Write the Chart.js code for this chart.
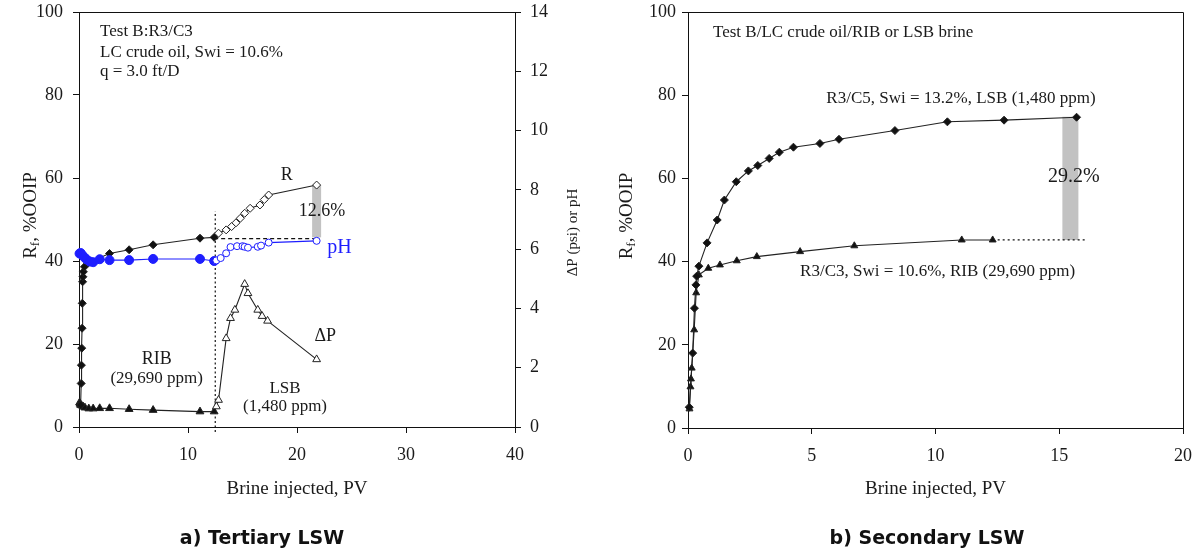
<!DOCTYPE html>
<html><head><meta charset="utf-8">
<script src="https://cdn.jsdelivr.net/npm/chart.js@4.4.1/dist/chart.umd.min.js"></script>
<style>
html,body{margin:0;padding:0;background:#fff;}
#wrap{position:relative;width:1194px;height:550px;overflow:hidden;background:#fff;}
#c1{position:absolute;left:0;top:0;width:600px;height:550px;}
#c2{position:absolute;left:600px;top:0;width:594px;height:550px;}
.panel{position:absolute;top:522px;font-family:"DejaVu Sans",sans-serif;font-weight:700;font-size:19px;color:#111;white-space:nowrap;transform:translateX(-50%);line-height:30px;}
</style></head><body>
<div id="wrap">
<canvas id="c1" width="600" height="550"></canvas>
<canvas id="c2" width="594" height="550"></canvas>
<div class="panel" style="left:262px">a) Tertiary LSW</div>
<div class="panel" style="left:927px">b) Secondary LSW</div>
</div>
<script>
// ---------- Panel a) Tertiary LSW : data ----------
// Recovery factor R (%OOIP) during RIB (filled) and LSB (open) injection
const R_rib_x = [0.15, 0.2, 0.22, 0.25, 0.28, 0.3, 0.33, 0.36, 0.4, 0.5, 0.8, 2.8, 4.6, 6.8, 11.1, 12.4];
const R_rib_y = [5.3, 10.5, 14.9, 19.0, 23.8, 29.8, 35.0, 36.2, 37.4, 38.6, 39.5, 41.8, 42.7, 43.9, 45.5, 45.7];
const R_lsb_x = [12.8, 13.5, 14.0, 14.4, 14.8, 15.2, 15.7, 16.6, 17.0, 17.4, 21.8];
const R_lsb_y = [46.7, 47.5, 48.3, 49.2, 50.3, 51.5, 52.7, 53.5, 54.8, 55.9, 58.3];
// pH (right axis)
const pH_rib_x = [0.05, 0.15, 0.3, 0.5, 0.7, 1.0, 1.3, 1.9, 2.8, 4.6, 6.8, 11.1, 12.4];
const pH_rib_y = [5.85, 5.87, 5.8, 5.72, 5.65, 5.58, 5.56, 5.66, 5.63, 5.63, 5.67, 5.67, 5.6];
const pH_lsb_x = [12.6, 13.0, 13.5, 13.9, 14.5, 15.0, 15.2, 15.5, 16.4, 16.7, 17.4, 21.8];
const pH_lsb_y = [5.62, 5.7, 5.86, 6.07, 6.1, 6.1, 6.08, 6.05, 6.08, 6.12, 6.22, 6.28];
// Pressure drop dP (psi, right axis)
const dP_rib_x = [0.05, 0.1, 0.15, 0.25, 0.4, 0.55, 0.9, 1.3, 1.9, 2.8, 4.6, 6.8, 11.1, 12.4];
const dP_rib_y = [0.82, 0.78, 0.74, 0.72, 0.68, 0.65, 0.62, 0.62, 0.63, 0.63, 0.6, 0.57, 0.52, 0.52];
const dP_lsb_x = [12.6, 12.8, 13.5, 13.9, 14.3, 15.2, 15.5, 16.4, 16.8, 17.3, 21.8];
const dP_lsb_y = [0.69, 0.91, 2.99, 3.67, 3.95, 4.82, 4.51, 3.95, 3.74, 3.58, 2.28];
const switchPV = 12.5;      // brine switch RIB -> LSB
const switchLineTop = 52;   // top of the dotted switch marker (%OOIP)
const xTicksA = [0, 10, 20, 30, 40];
const yTicksA = [0, 20, 40, 60, 80, 100];
const y2TicksA = [0, 2, 4, 6, 8, 10, 12, 14];

// ---------- Panel b) Secondary LSW : data ----------
const C5_x = [0.05, 0.19, 0.26, 0.32, 0.35, 0.44, 0.77, 1.18, 1.47, 1.95, 2.44, 2.82, 3.28, 3.69, 4.26, 5.33, 6.1, 8.36, 10.48, 12.77, 15.7];
const C5_y = [5.0, 18.0, 28.8, 34.4, 36.5, 38.9, 44.5, 50.0, 54.8, 59.2, 61.8, 63.1, 64.8, 66.3, 67.5, 68.4, 69.4, 71.5, 73.6, 74.0, 74.7];
const C3_x = [0.06, 0.1, 0.12, 0.15, 0.25, 0.33, 0.44, 0.82, 1.29, 1.97, 2.78, 4.53, 6.72, 11.06, 12.31];
const C3_y = [4.6, 9.9, 11.8, 14.4, 23.6, 32.5, 36.8, 38.4, 39.2, 40.2, 41.2, 42.4, 43.8, 45.2, 45.2];
const diffBarPV_B = 15.45;  // position of the 29.2% bar
const dottedEndPV_B = 16.05;
const xTicksB = [0, 5, 10, 15, 20];
const yTicksB = [0, 20, 40, 60, 80, 100];

// ---------- helpers ----------
const SERIF = '"Liberation Serif", "Times New Roman", serif';
const TXT = '#1a1a1a';
const BLUE = '#1e1eff';
const TICKFONT = {family: SERIF, size: 18};
const ANN = '17px ' + SERIF;
const zip = (xs, ys) => xs.map((x, i) => ({x, y: ys[i]}));
const last = a => a[a.length - 1];

function textPlugin(id, items) {
  return {id, afterDatasetsDraw(chart) {
    const ctx = chart.ctx; ctx.save();
    items.forEach(it => {
      const xs = chart.scales.x, ys = chart.scales[it.axis || 'y'];
      ctx.font = it.font || ANN;
      ctx.fillStyle = it.color || TXT;
      ctx.textAlign = it.align || 'center';
      ctx.textBaseline = 'middle';
      ctx.fillText(it.text, xs.getPixelForValue(it.x), ys.getPixelForValue(it.y));
    });
    ctx.restore();
  }};
}
function drawRf(ctx, cx, cy) {
  ctx.save();
  ctx.translate(cx, cy); ctx.rotate(-Math.PI / 2);
  ctx.fillStyle = TXT; ctx.textBaseline = 'middle'; ctx.textAlign = 'left';
  const big = '19px ' + SERIF, small = '13px ' + SERIF;
  ctx.font = big; const wR = ctx.measureText('R').width; const wRest = ctx.measureText(', %OOIP').width;
  ctx.font = small; const wf = ctx.measureText('f').width;
  let x = -(wR + wf + wRest) / 2;
  ctx.font = big; ctx.fillText('R', x, 0); x += wR;
  ctx.font = small; ctx.fillText('f', x, 5); x += wf;
  ctx.font = big; ctx.fillText(', %OOIP', x, 0);
  ctx.restore();
}
function drawRotated(ctx, text, cx, cy, font) {
  ctx.save(); ctx.translate(cx, cy); ctx.rotate(-Math.PI / 2);
  ctx.font = font; ctx.fillStyle = TXT; ctx.textAlign = 'center'; ctx.textBaseline = 'middle';
  ctx.fillText(text, 0, 0); ctx.restore();
}
function fixSize(prop, val) {
  return s => { s[prop] = val; s.paddingTop = 0; s.paddingBottom = 0; s.paddingLeft = 0; s.paddingRight = 0; };
}
function tickAxis(ticksArr, pad, extra) {
  return Object.assign({
    type: 'linear', min: ticksArr[0], max: last(ticksArr),
    afterBuildTicks: s => { s.ticks = ticksArr.map(v => ({value: v})); },
    ticks: {color: TXT, font: TICKFONT, padding: pad, maxRotation: 0, autoSkip: false},
    grid: {drawOnChartArea: false, tickLength: 6, color: '#111', lineWidth: 1},
    border: {color: '#111', width: 1}
  }, extra);
}

// ---------- Chart a ----------
const rFill = R_rib_x.map(() => '#111').concat(R_lsb_x.map(() => '#fff'));
const pFill = pH_rib_x.map(() => BLUE).concat(pH_lsb_x.map(() => '#fff'));
const pRad = pH_rib_x.map(() => 4.5).concat(pH_lsb_x.map(() => 3.5));
const dFill = dP_rib_x.map(() => '#111').concat(dP_lsb_x.map(() => '#fff'));

new Chart(document.getElementById('c1'), {
  type: 'scatter',
  data: {datasets: [
    {data: [{x: last(R_lsb_x), y: last(R_rib_y)}, {x: last(R_lsb_x), y: last(R_lsb_y)}], showLine: true,
     borderColor: '#c2c2c2', borderWidth: 9, borderCapStyle: 'butt', pointRadius: 0, order: 10, yAxisID: 'y'},
    {data: [{x: last(R_rib_x), y: last(R_rib_y) - 0.3}, {x: last(R_lsb_x), y: last(R_rib_y) - 0.3}], showLine: true,
     borderColor: '#111', borderWidth: 1.2, borderDash: [4, 3], pointRadius: 0, order: 6, yAxisID: 'y'},
    {data: [{x: switchPV, y: -1.2}, {x: switchPV, y: switchLineTop}], showLine: true,
     borderColor: '#111', borderWidth: 1.2, borderDash: [2, 2.5], pointRadius: 0, order: 6, yAxisID: 'y'},
    {label: 'R', data: zip(R_rib_x.concat(R_lsb_x), R_rib_y.concat(R_lsb_y)), showLine: true, yAxisID: 'y',
     borderColor: '#222', borderWidth: 1.1, pointStyle: 'rectRot', pointRadius: 4,
     pointBackgroundColor: rFill, pointBorderColor: '#222', pointBorderWidth: 1, order: 2},
    {label: 'pH', data: zip(pH_rib_x.concat(pH_lsb_x), pH_rib_y.concat(pH_lsb_y)), showLine: true, yAxisID: 'y2',
     borderColor: BLUE, borderWidth: 1.1, pointStyle: 'circle', pointRadius: pRad,
     pointBackgroundColor: pFill, pointBorderColor: BLUE, pointBorderWidth: 1, order: 1},
    {label: 'dP', data: zip(dP_rib_x.concat(dP_lsb_x), dP_rib_y.concat(dP_lsb_y)), showLine: true, yAxisID: 'y2',
     borderColor: '#222', borderWidth: 1.1, pointStyle: 'triangle', pointRadius: 4.5,
     pointBackgroundColor: dFill, pointBorderColor: '#222', pointBorderWidth: 1, order: 3}
  ].map(d => Object.assign({clip: false}, d))},
  options: {
    responsive: false, animation: false, events: [],
    layout: {autoPadding: false, padding: {top: 12, left: 0, right: 0, bottom: 0}},
    plugins: {legend: {display: false}, tooltip: {enabled: false}},
    scales: {
      x: tickAxis(xTicksA, 11, {afterFit: fixSize('height', 123)}),
      y: tickAxis(yTicksA, 10, {position: 'left', afterFit: fixSize('width', 79)}),
      y2: tickAxis(y2TicksA, 9, {position: 'right', afterFit: fixSize('width', 85)})
    }
  },
  plugins: [
    {id: 'frameA', afterDraw(chart) {
      const {ctx, chartArea: a} = chart;
      ctx.save(); ctx.strokeStyle = '#111'; ctx.lineWidth = 1;
      ctx.beginPath(); ctx.moveTo(a.left, a.top + 0.5); ctx.lineTo(a.right, a.top + 0.5); ctx.stroke();
      drawRf(ctx, 31, (a.top + a.bottom) / 2 - 4);
      drawRotated(ctx, '\u0394P (psi) or pH', 573, (a.top + a.bottom) / 2 + 13, '15px ' + SERIF);
      ctx.font = '19px ' + SERIF; ctx.fillStyle = TXT; ctx.textAlign = 'center'; ctx.textBaseline = 'middle';
      ctx.fillText('Brine injected, PV', (a.left + a.right) / 2, 489);
      ctx.restore();
    }},
    textPlugin('txtA', [
      {text: 'Test B:R3/C3', x: 1.93, y: 95.3, align: 'left'},
      {text: 'LC crude oil, Swi = 10.6%', x: 1.93, y: 90.3, align: 'left'},
      {text: 'q = 3.0 ft/D', x: 1.93, y: 85.6, align: 'left'},
      {text: 'R', x: 19.05, y: 60.7, font: '18px ' + SERIF},
      {text: '12.6%', x: 22.3, y: 51.9, font: '18px ' + SERIF},
      {text: 'pH', x: 23.9, y: 43.1, color: BLUE, font: '20px ' + SERIF},
      {text: 'RIB', x: 7.13, y: 16.3, font: '18px ' + SERIF},
      {text: '(29,690 ppm)', x: 7.13, y: 11.7},
      {text: 'LSB', x: 18.9, y: 9.3},
      {text: '(1,480 ppm)', x: 18.9, y: 4.9},
      {text: '\u0394P', x: 22.6, y: 21.8, font: '18px ' + SERIF}
    ])
  ]
});

// ---------- Chart b ----------
new Chart(document.getElementById('c2'), {
  type: 'scatter',
  data: {datasets: [
    {data: [{x: diffBarPV_B, y: last(C3_y)}, {x: diffBarPV_B, y: last(C5_y) + 0.1}], showLine: true,
     borderColor: '#c2c2c2', borderWidth: 16, borderCapStyle: 'butt', pointRadius: 0, order: 10},
    {data: [{x: last(C3_x), y: last(C3_y)}, {x: dottedEndPV_B, y: last(C3_y)}], showLine: true,
     borderColor: '#111', borderWidth: 1.2, borderDash: [2, 3], pointRadius: 0, order: 6},
    {label: 'R3/C5', data: zip(C5_x, C5_y), showLine: true, borderColor: '#222', borderWidth: 1.1,
     pointStyle: 'rectRot', pointRadius: 4, pointBackgroundColor: '#111', pointBorderColor: '#222', pointBorderWidth: 1, order: 1},
    {label: 'R3/C3', data: zip(C3_x, C3_y), showLine: true, borderColor: '#222', borderWidth: 1.1,
     pointStyle: 'triangle', pointRadius: 4, pointBackgroundColor: '#111', pointBorderColor: '#222', pointBorderWidth: 1, order: 2}
  ].map(d => Object.assign({clip: false}, d))},
  options: {
    responsive: false, animation: false, events: [],
    layout: {autoPadding: false, padding: {top: 12, left: 0, right: 11, bottom: 0}},
    plugins: {legend: {display: false}, tooltip: {enabled: false}},
    scales: {
      x: tickAxis(xTicksB, 11, {afterFit: fixSize('height', 122)}),
      y: tickAxis(yTicksB, 6, {position: 'left', afterFit: fixSize('width', 88)})
    }
  },
  plugins: [
    {id: 'frameB', afterDraw(chart) {
      const {ctx, chartArea: a} = chart;
      ctx.save(); ctx.strokeStyle = '#111'; ctx.lineWidth = 1;
      ctx.beginPath(); ctx.moveTo(a.left, a.top + 0.5); ctx.lineTo(a.right + 0.5, a.top + 0.5); ctx.lineTo(a.right + 0.5, a.bottom); ctx.stroke();
      drawRf(ctx, 27, (a.top + a.bottom) / 2 - 4);
      ctx.font = '19px ' + SERIF; ctx.fillStyle = TXT; ctx.textAlign = 'center'; ctx.textBaseline = 'middle';
      ctx.fillText('Brine injected, PV', (a.left + a.right) / 2, 489);
      ctx.restore();
    }},
    textPlugin('txtB', [
      {text: 'Test B/LC crude oil/RIB or LSB brine', x: 1.01, y: 95.0, align: 'left', font: '17px ' + SERIF},
      {text: 'R3/C5, Swi = 13.2%, LSB (1,480 ppm)', x: 5.59, y: 79.1, align: 'left'},
      {text: 'R3/C3, Swi = 10.6%, RIB (29,690 ppm)', x: 4.53, y: 37.7, align: 'left'},
      {text: '29.2%', x: 15.59, y: 60.3, font: '20px ' + SERIF}
    ])
  ]
});
</script>
</body></html>
